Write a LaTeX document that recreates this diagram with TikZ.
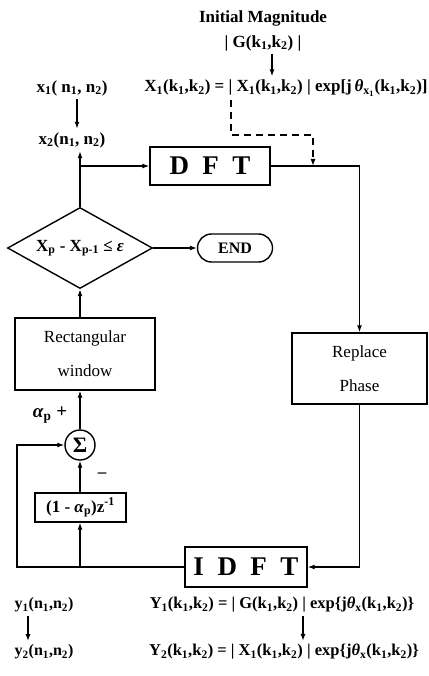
\documentclass[tikz,border=0pt]{standalone}
\usepackage{fontspec}
\setmainfont{Liberation Serif}
\usetikzlibrary{shapes.geometric,arrows.meta}
\newcommand{\sbs}[1]{\textsubscript{#1}}
\begin{document}
\begin{tikzpicture}[x=1pt,y=-1pt,font=\bfseries\fontsize{17}{19}\selectfont,
  blk/.style={draw,line width=1.4pt,inner sep=0pt},
  ln/.style={line width=1.3pt},
  arr/.style={line width=1.3pt,-{Latex[length=7pt,width=5pt]}},
  big/.style={font=\bfseries\fontsize{27}{29}\selectfont},
  lbl/.style={font=\mdseries\fontsize{17}{34}\selectfont,align=center}]
  \useasboundingbox (0,0) rectangle (428,676);
  \node (mag) at (263,18) {Initial Magnitude};
  \node (gmag) at (263,43) {| G(k\sbs{1},k\sbs{2}) |};
  \node (xeq) at (286,88) {X\sbs{1}(k\sbs{1},k\sbs{2}) = | X\sbs{1}(k\sbs{1},k\sbs{2}) | exp[j\,\textit{θ}\sbs{x\sbs{1}}(k\sbs{1},k\sbs{2})]};
  \node (xone) at (72,88) {x\sbs{1}( n\sbs{1}, n\sbs{2})};
  \node (xtwo) at (72,140) {x\sbs{2}(n\sbs{1}, n\sbs{2})};
  \node[blk,big,minimum width=120,minimum height=38] (dft) at (210,166) {D\,\,\,F\,\,\,T};
  \node[blk,draw,diamond,aspect=1.8,minimum width=145,minimum height=81] (dia) at (80,248) {X\sbs{p} - X\sbs{p-1} ≤ \textit{ε}};
  \node[draw,line width=1.4pt,rounded corners=14pt,minimum width=75,minimum height=28,font=\bfseries\fontsize{16}{18}\selectfont] (end) at (235,248) {END};
  \node[blk,lbl,minimum width=140,minimum height=72] (rwin) at (85,354) {Rectangular\\window};
  \node[blk,lbl,minimum width=135,minimum height=71] (rp) at (359.5,368.5) {Replace\\Phase};
  \node[font=\bfseries\fontsize{19}{21}\selectfont] (aplus) at (50,415) {\textit{α}\sbs{p} +};
  \node[draw,circle,line width=1.4pt,minimum size=30,inner sep=0pt,font=\bfseries\fontsize{22}{22}\selectfont] (sum) at (80,445) {Σ};
  \node (minus) at (102,475) {\textendash};
  \node[blk,minimum width=91,minimum height=29] (delay) at (80.5,507.5) {(1 - \textit{α}\sbs{p})z\textsuperscript{-1}};
  \node[blk,big,minimum width=122,minimum height=40] (idft) at (246,567) {I\,\,\,D\,\,\,F\,\,\,T};
  \node[font=\bfseries\fontsize{16}{18}\selectfont] (yone) at (44,605) {y\sbs{1}(n\sbs{1},n\sbs{2})};
  \node[font=\bfseries\fontsize{16}{18}\selectfont] (ytwo) at (44,652) {y\sbs{2}(n\sbs{1},n\sbs{2})};
  \node[font=\bfseries\fontsize{16.5}{18}\selectfont] (Yone) at (282,605) {Y\sbs{1}(k\sbs{1},k\sbs{2}) = | G(k\sbs{1},k\sbs{2}) | exp\{j\textit{θ}\sbs{x}(k\sbs{1},k\sbs{2})\}};
  \node[font=\bfseries\fontsize{16.5}{18}\selectfont] (Ytwo) at (284,652) {Y\sbs{2}(k\sbs{1},k\sbs{2}) = | X\sbs{1}(k\sbs{1},k\sbs{2}) | exp\{j\textit{θ}\sbs{x}(k\sbs{1},k\sbs{2})\}};
  \coordinate (jn) at (80,166);
  \coordinate (fb) at (17,445);
  \coordinate (ds) at (231,100);
  \coordinate (dk) at (313,135);
  \coordinate (dj) at (313,166);
  \draw[arr] ([xshift=9pt]gmag.south) -- ([xshift=9pt]gmag.south |- xeq.north);
  \draw[arr] ([xshift=5pt]xone.south) -- ([xshift=5pt]xone.south |- xtwo.north);
  \draw[arr,dash pattern=on 7pt off 5pt] (ds) |- (dk) -- (dj);
  \draw[arr] (dia.north) -- (jn) -- (dft.west);
  \draw[arr] (jn) -- (xtwo.south -| jn);
  \draw[arr] (dft.east) -| (rp.north);
  \draw[arr] (dia.east) -- (end.west);
  \draw[arr] (dia.south |- rwin.north) -- (dia.south);
  \draw[arr] (sum.north) -- (sum.north |- rwin.south);
  \draw[arr] (delay.north -| sum.south) -- (sum.south);
  \draw[arr] (sum.south |- idft.west) -- (sum.south |- delay.south);
  \draw[arr] (idft.west) -| (fb) -- (sum.west);
  \draw[arr] (rp.south) |- (idft.east);
  \draw[arr] ([xshift=-16pt]yone.south) -- ([xshift=-16pt]yone.south |- ytwo.north);
  \draw[arr] ([xshift=21pt]Yone.south) -- ([xshift=21pt]Yone.south |- Ytwo.north);
\end{tikzpicture}
\end{document}
